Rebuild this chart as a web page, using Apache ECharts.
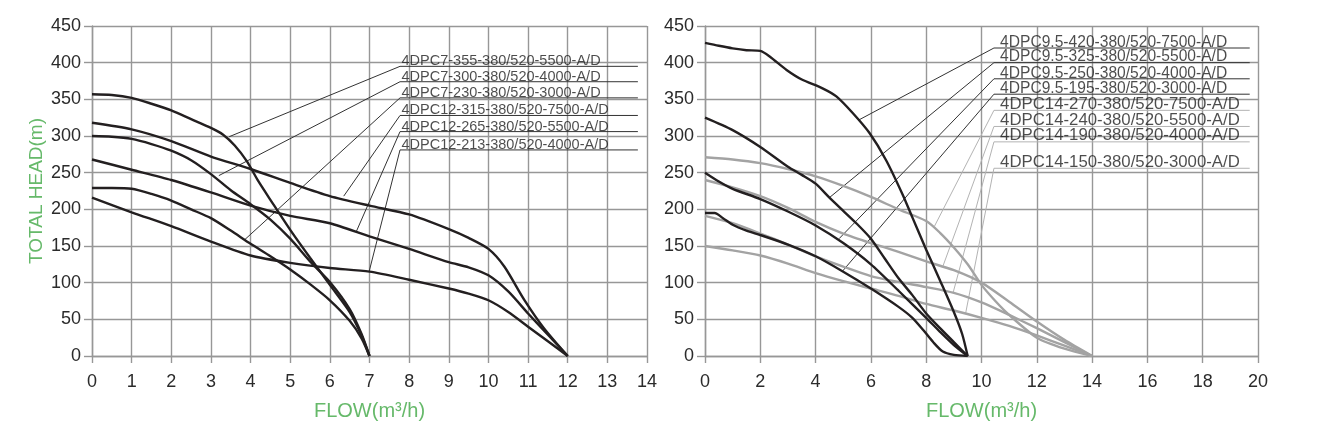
<!DOCTYPE html>
<html>
<head>
<meta charset="utf-8">
<script src="https://cdn.jsdelivr.net/npm/echarts@6/dist/echarts.min.js"></script>
<style>
  html, body { margin: 0; padding: 0; background: #fff; }
  #chart { width: 1324px; height: 445px; }
</style>
</head>
<body>
<div id="chart"></div>
<script>
// ---- left chart: 4DPC7 / 4DPC12 ----
const c7_355 = [[0,357],[0.5,356],[1,352],[1.5,344],[2,335],[2.5,323],[3,311],[3.3,302],[3.6,287],[3.9,266],[4.2,238],[4.5,213],[5,172],[5.5,134],[6,97],[6.5,60],[6.8,28],[7,0]];
const c7_300 = [[0,300],[0.5,299],[1,296],[1.5,289],[2,280],[2.5,267],[3,248],[3.5,226],[4,207],[4.5,186],[5,160],[5.5,129],[6,101],[6.5,64],[6.8,30],[7,0]];
const c7_230 = [[0,229],[0.5,229],[1,228],[1.5,221],[2,212],[2.5,200],[3,188],[3.5,171],[4,153],[4.5,136],[5,118],[5.5,98],[6,76],[6.5,48],[6.8,24],[7,0]];
const c12_315 = [[0,318],[1,309],[2,293],[3,272],[4,255],[5,236],[6,218],[7,205],[8,193],[9,173],[9.5,161],[10,146],[10.4,122],[10.9,77],[11.4,38],[12,0]];
const c12_265 = [[0,268],[1,254],[2,240],[3,223],[4,205],[5,191],[6,181],[7,163],[8,146],[9,128],[9.5,121],[10,110],[10.5,88],[11,58],[11.5,29],[12,0]];
const c12_213 = [[0,216],[1,196],[2,177],[3,156],[4,137],[5,127],[6,120],[7,115],[8,104],[9,92],[9.5,85],[10,76],[10.5,60],[11,40],[11.5,20],[12,0]];

const leftNames = ['4DPC7-355-380/520-5500-A/D','4DPC7-300-380/520-4000-A/D','4DPC7-230-380/520-3000-A/D',
                   '4DPC12-315-380/520-7500-A/D','4DPC12-265-380/520-5500-A/D','4DPC12-213-380/520-4000-A/D'];
const leftLabelY = [395, 374, 352, 328, 306, 281];
const leftAnchors = [[3.46,299],[3.2,246],[3.84,158],[6.35,218],[6.67,170],[6.99,115]];
const leftLineX = [7.77, 13.77];
const leftTextX = 7.82;

// ---- right chart: 4DPC9.5 / 4DPC14 ----
const c95_420 = [[0,427],[0.5,423],[1,419.5],[1.5,417],[2,416],[2.35,408],[2.95,390],[3.5,377],[4.25,365],[4.75,354],[5.35,331],[5.95,304],[6.55,267],[7.15,220],[7.5,189],[8,145],[8.5,103],[9,60],[9.3,30],[9.5,0]];
const c95_325 = [[0,325],[1,308],[2,285],[3,258],[3.5,247],[4,235],[4.5,216],[5,198],[5.5,180],[6,160],[6.5,133],[7,106],[7.5,83],[8,58],[8.5,38],[9,19],[9.5,0]];
const c95_250 = [[0,250],[0.5,238],[1,228],[2,214],[3,197],[4,178],[5,154],[6,125],[7,89],[8,52],[8.5,33],[9,15],[9.5,0]];
const c95_195 = [[0,195],[0.35,195],[0.65,188],[1,179],[1.5,171],[2,165],[3,152],[4,136],[5,115],[6,92],[7,67],[7.5,52],[7.9,35],[8.25,19],[8.6,6],[9,1.5],[9.5,0]];
const c14_270 = [[0,271],[1,268],[2,263],[3,255],[4,245],[5,232],[6,217],[7,200],[8,184],[8.5,168],[9,148],[9.5,125],[10,97],[10.5,75],[11,56],[12,25],[13,10],[14,0]];
const c14_240 = [[0,240],[1,230],[2,218],[3,202],[4,183],[5,167],[6,154],[7,142],[8,129],[9,117],[10,100],[11,74],[12,47],[13,22],[14,0]];
const c14_190 = [[0,191],[1,181],[2,167],[3,152],[4,136],[5,122],[6,109],[7,101],[8,94],[9,86],[10,73],[11,56],[12,38],[13,19],[14,0]];
const c14_150 = [[0,150],[1,144],[2,137],[3,126],[4,113],[5,102],[6,92],[7,82],[8,71],[9,62],[10,52],[11,41],[12,28],[13,14],[14,0]];

const rightNames = ['4DPC9.5-420-380/520-7500-A/D','4DPC9.5-325-380/520-5500-A/D','4DPC9.5-250-380/520-4000-A/D','4DPC9.5-195-380/520-3000-A/D',
                    '4DPC14-270-380/520-7500-A/D','4DPC14-240-380/520-5500-A/D','4DPC14-190-380/520-4000-A/D','4DPC14-150-380/520-3000-A/D'];
const rightLabelY = [420, 400, 378, 357, 335, 313, 292, 256];
const rightAnchors = [[5.57,322],[4.5,216],[4.85,160],[4.98,116],[8.3,177],[8.6,122],[8.97,86],[9.42,57]];
const rightLineX = [10.45, 19.7];
const rightTextX = 10.69;

const DARK = '#231f20';
const GRAY = '#a3a3a3';
const GRID = '#979797';
const GREEN = '#66b96a';
const FONT = '"Liberation Sans", Arial, sans-serif';

const chart = echarts.init(document.getElementById('chart'));

function xAxis(idx, max, interval) {
  return {
    type: 'value', gridIndex: idx, min: 0, max: max, interval: interval,
    name: 'FLOW(m³/h)', nameLocation: 'middle', nameGap: 45,
    nameTextStyle: { color: GREEN, fontSize: 20, fontFamily: FONT },
    axisLine: { show: true, lineStyle: { color: GRID, width: 1.4 } },
    axisTick: { show: true, length: 7, lineStyle: { color: GRID, width: 1.4 } },
    axisLabel: { color: '#2b2b2b', fontSize: 18, fontFamily: FONT, margin: 17 },
    splitLine: { show: true, lineStyle: { color: GRID, width: 1.4 } }
  };
}
function yAxis(idx, withName) {
  return {
    type: 'value', gridIndex: idx, min: 0, max: 450, interval: 50,
    name: withName ? 'TOTAL HEAD(m)' : '', nameLocation: 'middle', nameGap: 46,
    nameTextStyle: { color: GREEN, fontSize: 19, fontFamily: FONT },
    axisLine: { show: true, lineStyle: { color: GRID, width: 1.4 } },
    axisTick: { show: true, length: 8, lineStyle: { color: GRID, width: 1.4 } },
    axisLabel: { color: '#2b2b2b', fontSize: 18, fontFamily: FONT, margin: 11 },
    splitLine: { show: true, lineStyle: { color: GRID, width: 1.4 } }
  };
}

function curve(data, color, idx) {
  return {
    type: 'line', xAxisIndex: idx, yAxisIndex: idx, data: data,
    smooth: 0.25, symbol: 'none', silent: true, z: 4,
    lineStyle: { color: color, width: 2.4 }
  };
}
function leader(anchor, y, lineX, color, idx) {
  return {
    type: 'line', xAxisIndex: idx, yAxisIndex: idx,
    data: [anchor, [lineX[0], y], [lineX[1], y]],
    symbol: 'none', silent: true, z: 3,
    lineStyle: { color: color, width: 1 }
  };
}
function labels(names, ys, x, sizes, idx) {
  return {
    type: 'scatter', xAxisIndex: idx, yAxisIndex: idx, silent: true, z: 5,
    symbolSize: 1, itemStyle: { color: 'rgba(0,0,0,0)' },
    data: names.map((n, i) => ({
      value: [x, ys[i]],
      label: { show: true, formatter: n, position: [0, 3], align: 'left', verticalAlign: 'bottom',
               color: '#1f1f1f', fontSize: sizes[i], fontFamily: FONT }
    }))
  };
}

const series = [];
[c7_355, c7_300, c7_230, c12_315, c12_265, c12_213].forEach(d => series.push(curve(d, DARK, 0)));
leftNames.forEach((n, i) => series.push(leader(leftAnchors[i], leftLabelY[i], leftLineX, '#333', 0)));
series.push(labels(leftNames, leftLabelY, leftTextX, leftNames.map(() => 14.5), 0));

[c14_270, c14_240, c14_190, c14_150].forEach(d => series.push(curve(d, GRAY, 1)));
[c95_420, c95_325, c95_250, c95_195].forEach(d => series.push(curve(d, DARK, 1)));
rightNames.forEach((n, i) => series.push(leader(rightAnchors[i], rightLabelY[i], rightLineX, i < 4 ? '#333' : '#b3b3b3', 1)));
series.push(labels(rightNames, rightLabelY, rightTextX, rightNames.map((n, i) => i < 4 ? 15.6 : 16.8), 1));

chart.setOption({
  animation: false,
  backgroundColor: '#fff',
  grid: [
    { left: 92, right: 677, top: 26, bottom: 89 },
    { left: 705, right: 66, top: 26, bottom: 89 }
  ],
  xAxis: [xAxis(0, 14, 1), xAxis(1, 20, 2)],
  yAxis: [yAxis(0, true), yAxis(1, false)],
  series: series
});
</script>
</body>
</html>
